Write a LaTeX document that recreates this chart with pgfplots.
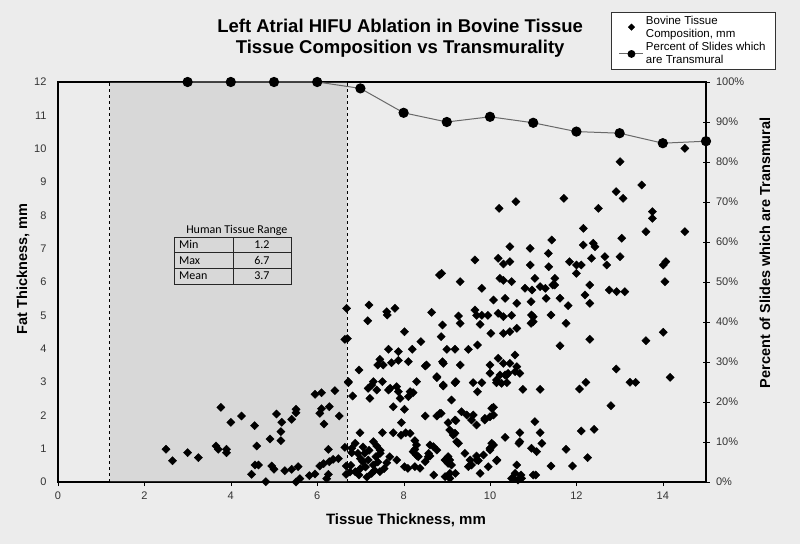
\documentclass[border=0pt]{standalone}
\usepackage{pgfplots}
\pgfplotsset{compat=1.18}
\usepackage{fontspec}
\setmainfont{Liberation Sans}
\newfontfamily\calib{Carlito}
\definecolor{bgc}{RGB}{236,236,236}
\definecolor{hrange}{RGB}{160,160,160}
\definecolor{tlc}{RGB}{105,105,105}

\pgfplotstableread{
x y
2.50 0.98
2.65 0.64
3.00 0.88
3.25 0.73
3.66 1.08
3.71 0.98
3.90 0.98
3.90 0.88
3.77 2.24
4.00 1.79
4.25 1.98
4.55 1.69
4.60 1.08
4.48 0.23
4.56 0.51
4.64 0.51
4.81 0.01
4.91 1.29
4.95 0.48
5.00 0.38
5.06 2.04
5.18 1.79
5.16 1.51
5.16 1.24
5.25 0.34
5.41 0.38
5.41 1.88
5.51 2.18
5.51 2.08
5.56 0.46
5.51 0.00
5.60 0.10
5.82 0.19
5.95 0.24
5.95 2.63
6.10 2.68
6.06 2.06
6.10 2.20
6.28 2.26
6.16 1.74
6.41 2.74
6.51 1.98
6.06 0.48
6.15 0.55
6.28 0.61
6.37 0.68
6.49 0.70
6.26 0.98
6.26 0.23
6.22 0.10
6.64 1.04
6.67 0.48
6.67 0.23
6.72 2.98
6.82 2.58
6.80 0.88
6.68 5.21
6.64 4.28
6.70 4.30
6.72 3.01
6.80 1.01
6.78 0.50
6.76 0.30
7.20 5.31
7.17 4.84
7.61 5.11
7.62 5.01
7.80 5.21
8.65 5.09
8.02 4.51
8.90 4.71
8.87 4.36
8.40 4.21
7.65 3.98
7.88 3.91
8.20 3.98
9.00 3.98
7.45 3.68
7.40 3.51
7.72 3.58
7.88 3.65
8.11 3.61
8.50 3.48
8.90 3.61
6.97 3.36
8.77 3.13
8.92 2.88
7.30 3.01
7.18 2.81
7.38 2.76
7.51 3.01
7.65 2.76
7.84 2.86
7.22 2.51
7.92 2.51
8.11 2.56
8.22 2.68
8.30 3.01
7.76 2.26
8.02 2.18
8.50 1.98
8.77 1.98
8.87 2.06
9.03 1.78
7.95 1.78
6.99 1.48
7.51 1.48
7.76 1.48
7.94 1.40
8.05 1.48
8.26 1.24
8.26 0.98
8.30 0.80
7.30 1.21
7.38 1.08
7.46 0.95
6.88 1.16
7.06 1.05
6.94 0.86
7.10 0.86
7.18 0.66
7.05 0.61
7.36 0.76
7.30 0.51
7.46 0.86
6.88 0.31
6.97 0.21
7.26 0.26
7.45 0.31
7.61 0.58
7.68 0.76
7.84 0.66
8.02 0.46
8.10 0.41
8.26 0.46
8.38 0.41
8.50 0.61
8.61 0.78
8.69 1.06
8.77 0.96
8.58 0.86
8.96 0.66
9.03 0.56
8.70 0.21
9.20 0.26
7.26 2.91
7.69 2.81
7.88 2.71
8.15 2.71
8.84 2.06
9.21 1.84
8.15 1.46
8.30 1.11
8.22 0.91
8.34 0.76
8.61 1.11
8.57 0.76
9.07 1.56
9.15 1.41
9.23 1.21
9.07 0.66
9.54 0.66
9.69 0.66
9.85 0.81
10.00 0.96
10.08 1.11
10.16 0.66
10.69 1.21
10.96 1.01
11.06 0.21
10.54 0.11
10.73 0.11
10.00 3.26
10.15 3.06
10.27 2.96
10.35 3.21
10.42 3.26
10.58 3.31
10.69 3.26
9.21 3.01
8.92 2.91
8.77 3.16
8.53 3.51
8.92 3.56
9.11 2.46
7.53 3.51
9.07 0.11
7.00 0.40
7.12 0.45
7.20 0.95
7.33 0.35
7.40 0.60
7.15 0.15
7.55 0.40
7.00 0.70
10.21 8.21
10.60 8.41
10.46 7.06
10.93 7.01
11.43 7.26
11.35 6.86
9.65 6.66
10.19 6.71
10.31 6.54
10.46 6.61
10.93 6.51
11.36 6.46
9.31 6.01
10.23 6.11
10.31 6.05
10.50 6.01
11.04 6.11
10.81 5.81
10.97 5.76
11.16 5.86
11.28 5.81
11.45 5.91
9.81 5.81
10.08 5.46
10.35 5.51
10.62 5.36
10.95 5.41
11.30 5.51
11.41 5.01
9.65 5.16
9.69 5.00
9.81 5.00
9.95 5.00
10.19 5.06
10.31 4.96
10.50 5.00
9.77 4.73
9.27 4.98
9.31 4.76
10.02 4.46
10.31 4.46
10.46 4.51
10.62 4.61
11.00 4.96
10.95 4.76
9.19 3.98
9.50 3.98
9.71 4.11
9.31 3.51
10.00 3.51
10.19 3.71
10.31 3.56
10.46 3.56
10.58 3.81
10.62 3.46
10.23 3.21
10.15 2.98
10.39 3.21
10.39 2.98
9.19 2.98
9.61 2.98
9.81 2.98
9.71 2.71
10.76 2.78
11.16 2.78
10.08 2.24
9.34 2.11
9.46 2.01
9.57 1.86
9.69 1.71
9.88 1.86
10.00 1.96
9.19 1.86
9.19 1.46
9.27 1.16
10.35 1.34
10.69 1.48
10.67 1.16
11.04 1.81
11.16 1.48
11.20 1.16
11.08 0.91
10.04 1.16
10.00 1.01
9.42 0.86
9.69 0.78
9.73 0.64
9.50 0.46
9.57 0.51
9.77 0.26
9.96 0.46
10.15 0.64
9.03 0.76
9.11 0.51
9.07 0.26
10.62 0.51
10.58 0.26
10.50 0.11
10.65 0.06
10.72 0.21
11.00 0.21
11.41 0.48
8.96 0.16
9.88 1.91
10.04 2.21
10.08 2.01
9.61 2.01
8.83 6.21
8.88 6.26
10.96 5.01
11.00 4.81
11.71 8.51
13.01 9.61
12.92 8.71
13.08 8.51
13.51 8.91
12.51 8.21
13.76 8.11
13.76 7.91
13.61 7.51
14.51 10.01
14.51 7.51
12.16 7.61
11.50 6.11
11.50 5.91
12.16 7.11
12.39 7.16
12.43 7.06
12.35 6.71
12.66 6.76
12.70 6.51
13.01 6.76
13.05 7.31
11.84 6.61
12.00 6.51
12.11 6.51
12.00 6.26
12.31 5.91
14.01 6.51
14.07 6.61
14.05 6.01
11.62 5.51
11.81 5.29
12.20 5.61
12.31 5.36
12.76 5.76
12.93 5.71
13.12 5.71
11.76 4.76
12.31 4.28
11.62 4.09
13.61 4.24
14.01 4.49
14.17 3.14
12.92 3.39
13.24 2.99
13.37 2.99
12.80 2.29
12.22 2.99
12.07 2.79
12.11 1.53
12.41 1.58
11.76 0.98
12.26 0.73
11.91 0.48
}\bovine

\pgfplotstableread{
x p
3 100
4 100
5 100
6 100
7 98.4
8 92.3
9 90.0
10 91.3
11 89.8
12 87.6
13 87.2
14 84.7
15 85.2
}\transmural

\begin{document}
\begin{tikzpicture}
\useasboundingbox (-58pt,-62pt) rectangle (742pt,482pt);
\fill[bgc] (-58pt,-62pt) rectangle (742pt,482pt);
\begin{axis}[
    at={(0,0)}, anchor=south west,
    scale only axis, width=648pt, height=400pt,
    xmin=0, xmax=15, ymin=0, ymax=12,
    xtick={0,2,...,14}, ytick={0,1,...,12},
    xtick pos=bottom, ytick pos=left,
    tick align=outside, major tick length=4pt,
    ytick style={draw=none},
    axis line style={black, line width=1.3pt},
    tick style={black},
    /pgf/number format/assume math mode=true,
    ticklabel style={font=\fontsize{11}{13}\selectfont, text=black!80},
    yticklabel style={xshift=-4pt},
    xticklabel style={yshift=-2pt},
    clip=false,
    title={Left Atrial HIFU Ablation in Bovine Tissue\\Tissue Composition vs Transmurality},
    title style={font=\bfseries\fontsize{18.5}{21}\selectfont, align=center,
      at={(axis description cs:0.528,1.095)}, anchor=center},
    xlabel={Tissue Thickness, mm},
    xlabel style={font=\bfseries\fontsize{15}{18}\selectfont,
      at={(axis description cs:0.537,-0.095)}, anchor=center},
    ylabel={Fat Thickness, mm},
    ylabel style={font=\bfseries\fontsize{14.5}{17}\selectfont,
      at={(axis description cs:-0.054,0.533)}, anchor=center},
]
\addplot[only marks, mark=square*, mark size=2.9pt,
  mark options={rotate=45, fill=black, draw=black}] table[x=x, y=y] {\bovine};
\fill[hrange, opacity=0.25] (axis cs:1.2,0) rectangle (axis cs:6.7,12);
\draw[black, dashed, line width=0.9pt] (axis cs:1.2,0) -- (axis cs:1.2,12);
\draw[black, dashed, line width=0.9pt] (axis cs:6.7,0) -- (axis cs:6.7,12);
% table of human tissue range
\node[font=\calib\fontsize{12}{14}\selectfont, anchor=base] at (axis cs:4.14,7.45) {Human Tissue Range};
\draw[black!85, line width=0.8pt] (axis cs:2.685,5.94) rectangle (axis cs:5.394,7.35);
\draw[black!85, line width=0.8pt] (axis cs:2.685,6.885) -- (axis cs:5.394,6.885);
\draw[black!85, line width=0.8pt] (axis cs:2.685,6.42) -- (axis cs:5.394,6.42);
\draw[black!85, line width=0.8pt] (axis cs:4.051,5.94) -- (axis cs:4.051,7.35);
\begin{scope}[every node/.style={font=\calib\fontsize{12}{14}\selectfont}]
\node[anchor=west] at (axis cs:2.72,7.117) {Min};
\node[anchor=west] at (axis cs:2.72,6.652) {Max};
\node[anchor=west] at (axis cs:2.72,6.18) {Mean};
\node at (axis cs:4.72,7.117) {1.2};
\node at (axis cs:4.72,6.652) {6.7};
\node at (axis cs:4.72,6.18) {3.7};
\end{scope}
\end{axis}
\begin{axis}[
    at={(0,0)}, anchor=south west,
    scale only axis, width=648pt, height=400pt,
    xmin=0, xmax=15, ymin=0, ymax=100,
    axis x line=none, axis y line*=right,
    ytick={0,10,...,100},
    yticklabel={\pgfmathprintnumber{\tick}\%},
    tick align=center, major tick length=7pt,
    axis line style={black, line width=1.3pt},
    tick style={black},
    /pgf/number format/assume math mode=true,
    ticklabel style={font=\fontsize{11}{13}\selectfont, text=black!80},
    yticklabel style={xshift=3pt},
    clip=false,
    ylabel={Percent of Slides which are Transmural},
    ylabel style={font=\bfseries\fontsize{14.5}{17}\selectfont,
      at={(axis description cs:1.091,0.573)}, anchor=center},
    legend image code/.code={
      \draw[mark repeat=2, mark phase=2, #1]
        plot coordinates {(0pt,0pt) (12pt,0pt) (24pt,0pt)};},
    legend style={at={(axis description cs:0.853,1.175)}, anchor=north west,
      draw=black!80, fill=white, font=\fontsize{11.5}{13}\selectfont,
      cells={anchor=north west, align=left}, inner xsep=8pt, inner ysep=1.5pt,
      row sep=0pt,
      /tikz/every odd column/.append style={column sep=0pt}},
    legend cell align=left,
]
\addlegendimage{only marks, mark=square*, mark size=2.3pt,
  mark options={rotate=45, fill=black, draw=black}}
\addlegendentry{Bovine Tissue\\Composition, mm}
\addplot[tlc, line width=1pt, mark=*, mark size=4.6pt,
  mark options={fill=black, draw=black}, forget plot] table[x=x, y=p] {\transmural};
\addlegendimage{tlc, line width=1pt, mark=*, mark size=3.4pt,
  mark options={fill=black, draw=black}}
\addlegendentry{Percent of Slides which\\are Transmural}
\end{axis}
\end{tikzpicture}
\end{document}
